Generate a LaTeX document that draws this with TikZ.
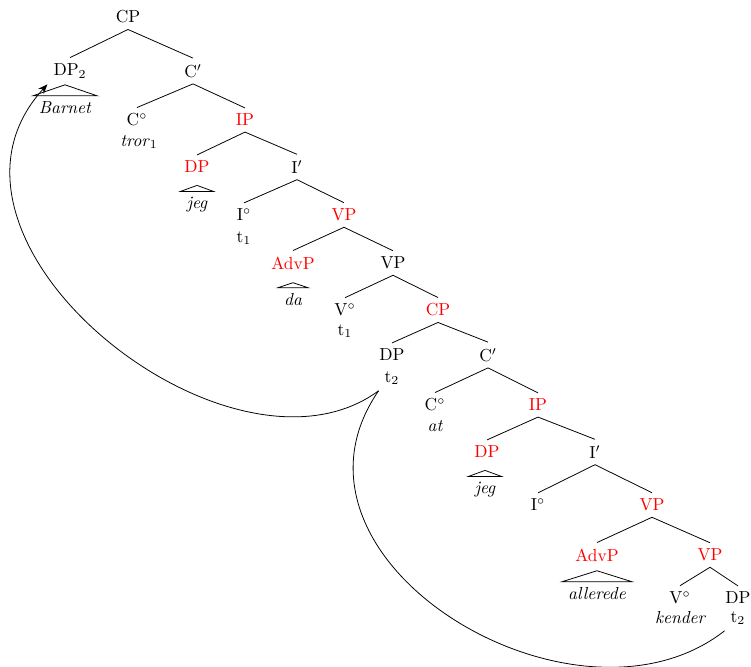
\documentclass[tikz,border=0pt]{standalone}
\usepackage{amsmath,xcolor}
\usepackage{tikz}
\usetikzlibrary{positioning,arrows.meta,calc}
\definecolor{ink}{HTML}{000000}
\definecolor{moved}{HTML}{FF0000}
\tikzset{
  cat/.style={align=center,font=\normalsize,text=ink},
  redcat/.style={cat,text=moved},
  word/.style={align=center,font=\normalsize\itshape,text=ink},
  branch/.style={draw=ink,line width=0.45pt},
  roof/.style={draw=ink,line width=0.45pt,line join=miter},
  movement/.style={draw=ink,line width=0.45pt},
  movearrow/.style={movement,-{Stealth[length=1.9mm,width=1.5mm]}}}
% triangle over a phrase: node name, height
\newcommand{\roofover}[2]{\draw[roof] (#1.north west) -- ($(#1.north)+(0,-#2)$) -- (#1.north east) -- cycle;}
\begin{document}
\begin{tikzpicture}[x=0.575pt,y=-0.575pt]
\useasboundingbox (0,0) rectangle (751,666);
% matrix clause
\node[cat] (cp) at (128,17) {CP};
\node[cat] (dpA) at (70,71) {DP$_2$};
\node[cat] (cbarA) at (193,71) {C$'$};
\node[word] (barnet) at (65,108) {Barnet};
\node[cat] (c0A) at (137,120) {C$^\circ$};
\node[cat] (tror) at (139,142) {\textit{tror}$_1$};
\node[redcat] (ipA) at (245,120) {IP};
\node[redcat] (dpB) at (197,167) {DP};
\node[word] (jegA) at (197,205) {jeg};
\node[cat] (ibarA) at (297,167) {I$'$};
\node[cat] (i0A) at (244,215) {I$^\circ$};
\node[cat] (t1a) at (244,238) {t$_1$};
\node[redcat] (vpA) at (344,215) {VP};
\node[redcat] (advA) at (293,263) {AdvP};
\node[word] (daA) at (293,300) {da};
\node[cat] (vpB) at (393,263) {VP};
\node[cat] (v0A) at (345,310) {V$^\circ$};
\node[cat] (t1b) at (345,331) {t$_1$};
% embedded clause
\node[redcat] (cpB) at (438,310) {CP};
\node[cat] (dpC) at (392,355) {DP};
\node[cat] (t2a) at (392,378) {t$_2$};
\node[cat] (cbarB) at (488,355) {C$'$};
\node[cat] (c0B) at (435,405) {C$^\circ$};
\node[word] (atA) at (435,426) {at};
\node[redcat] (ipB) at (538,405) {IP};
\node[redcat] (dpD) at (487,452) {DP};
\node[word] (jegB) at (485,490) {jeg};
\node[cat] (ibarB) at (595,452) {I$'$};
\node[cat] (i0B) at (538,505) {I$^\circ$};
\node[redcat] (vpC) at (652,505) {VP};
\node[redcat] (advB) at (597,555) {AdvP};
\node[word] (allerede) at (597,594) {allerede};
\node[redcat] (vpD) at (710,555) {VP};
\node[cat] (v0B) at (680,598) {V$^\circ$};
\node[word] (kender) at (680,618) {kender};
\node[cat] (dpE) at (738,598) {DP};
\node[cat] (t2b) at (738,618) {t$_2$};
% branches
\foreach \p/\c in {cp/dpA,cp/cbarA,cbarA/c0A,cbarA/ipA,ipA/dpB,ipA/ibarA,
  ibarA/i0A,ibarA/vpA,vpA/advA,vpA/vpB,vpB/v0A,vpB/cpB,cpB/dpC,cpB/cbarB,
  cbarB/c0B,cbarB/ipB,ipB/dpD,ipB/ibarB,ibarB/i0B,ibarB/vpC,vpC/advB,
  vpC/vpD,vpD/v0B,vpD/dpE}
  \draw[branch] (\p.south) -- (\c.north);
% roofs
\roofover{barnet}{11}
\roofover{jegA}{6}
\roofover{daA}{5}
\roofover{jegB}{6}
\roofover{allerede}{11}
% movement
\draw[movearrow] (t2a.south west) .. controls (230,500) and (-95,240) .. (dpA.south west);
\draw[movement] (t2a.south west) .. controls (262,560) and (575,748) .. (t2b.south west);
\end{tikzpicture}
\end{document}
